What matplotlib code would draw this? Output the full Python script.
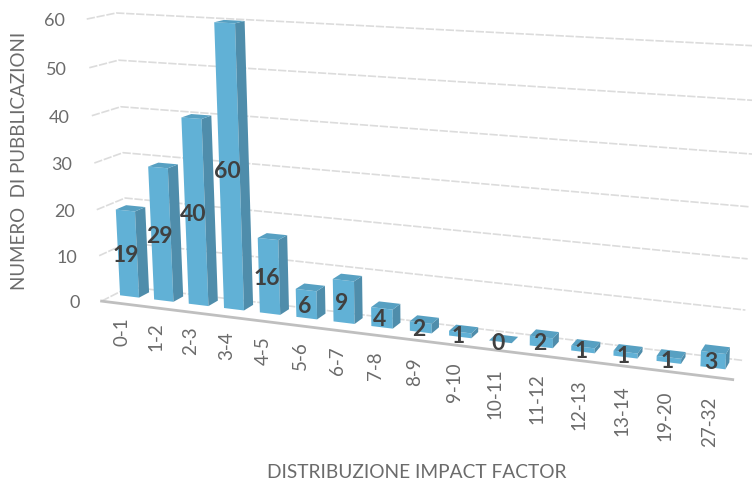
import matplotlib
matplotlib.use('Agg')
import matplotlib.pyplot as plt
from matplotlib.patches import Polygon
import numpy as np

plt.rcParams['font.family'] = ['Lato', 'DejaVu Sans']

categories = ['0-1', '1-2', '2-3', '3-4', '4-5', '5-6', '6-7', '7-8', '8-9', '9-10',
              '10-11', '11-12', '12-13', '13-14', '19-20', '27-32']
values = [19, 29, 40, 60, 16, 6, 9, 4, 2, 1, 0, 2, 1, 1, 1, 3]
y_ticks = [0, 10, 20, 30, 40, 50, 60]

# Box corners (category, value, depth) and where they land on the canvas
box_3d = [(0, 0, 0), (16, 0, 0), (0, 60, 0), (0, 0, 1), (0, 60, 1), (16, 0, 1), (16, 60, 1)]
box_px = [(103, 300), (733, 382), (85, 21), (128, 290), (118, 13), (743, 360), (757, 47)]

# Solve the perspective camera from the box corners
A, b = [], []
for (X, Y, Z), (u, v) in zip(box_3d, box_px):
    A.append([X, Y, Z, 1, 0, 0, 0, 0, -u * X, -u * Y, -u * Z])
    b.append(u)
    A.append([0, 0, 0, 0, X, Y, Z, 1, -v * X, -v * Y, -v * Z])
    b.append(v)
cam = np.linalg.lstsq(np.array(A, float), np.array(b, float), rcond=None)[0]


def project(X, Y, Z):
    w = cam[8] * X + cam[9] * Y + cam[10] * Z + 1
    return ((cam[0] * X + cam[1] * Y + cam[2] * Z + cam[3]) / w,
            (cam[4] * X + cam[5] * Y + cam[6] * Z + cam[7]) / w)


fig = plt.figure(figsize=(7.52, 4.81), dpi=100)
ax = fig.add_axes([0, 0, 1, 1])
ax.set_xlim(0, 752)
ax.set_ylim(481, 0)
ax.axis('off')

# Gridlines along the side wall and back wall
for t in y_ticks:
    pts = [project(0, t, 0), project(0, t, 1), project(16, t, 1)]
    ax.plot(*zip(*pts), color='#dcdcdc', lw=1.2, ls=(0, (5, 1)), zorder=1)

# Front edge of the floor
ax.plot(*zip(project(0, 0, 0), project(16, 0, 0)), color='#bfbfbf', lw=2, zorder=2)

# Bars, left to right
gap = 0.22
shift = -0.05
z0, z1 = 0.45, 0.82
for i, val in enumerate(values):
    x0, x1 = i + gap + shift, i + 1 - gap + shift
    front = [project(x0, 0, z0), project(x1, 0, z0), project(x1, val, z0), project(x0, val, z0)]
    side = [project(x1, 0, z0), project(x1, 0, z1), project(x1, val, z1), project(x1, val, z0)]
    top = [project(x0, val, z0), project(x1, val, z0), project(x1, val, z1), project(x0, val, z1)]
    ax.add_patch(Polygon(front, fc='#61b1d6', ec='none', zorder=3 + i))
    ax.add_patch(Polygon(side, fc='#4f8dab', ec='none', zorder=3 + i))
    ax.add_patch(Polygon(top, fc='#57a0c2', ec='none', zorder=3 + i))

for i, val in enumerate(values):
    lx, ly = project(i + 0.5 + shift, val / 2, z0)
    ax.text(lx - 2, ly + 1, str(val), ha='center', va='center', fontsize=16.5, fontweight='bold',
            color='#404040', zorder=40)

# Category labels under the front edge
for i, cat in enumerate(categories):
    lx, ly = project(i + 0.5, 0, 0)
    ax.text(lx + 3 - i * 0.2, ly + 13 + i * 0.4, cat, rotation=90, ha='center', va='top',
            fontsize=13.5, color='#6b6b6b')

for t in y_ticks:
    lx, ly = project(0, t, 0)
    ax.text(lx - 22, ly + 1, str(t), ha='right', va='center', fontsize=13, color='#6b6b6b')

ax.text(20, 161, 'NUMERO  DI PUBBLICAZIONI', rotation=90, ha='center', va='center',
        fontsize=13.5, color='#6b6b6b')
ax.text(417, 473, 'DISTRIBUZIONE IMPACT FACTOR', ha='center', va='center',
        fontsize=13.8, color='#6b6b6b')

fig.savefig('out.png', dpi=100)
